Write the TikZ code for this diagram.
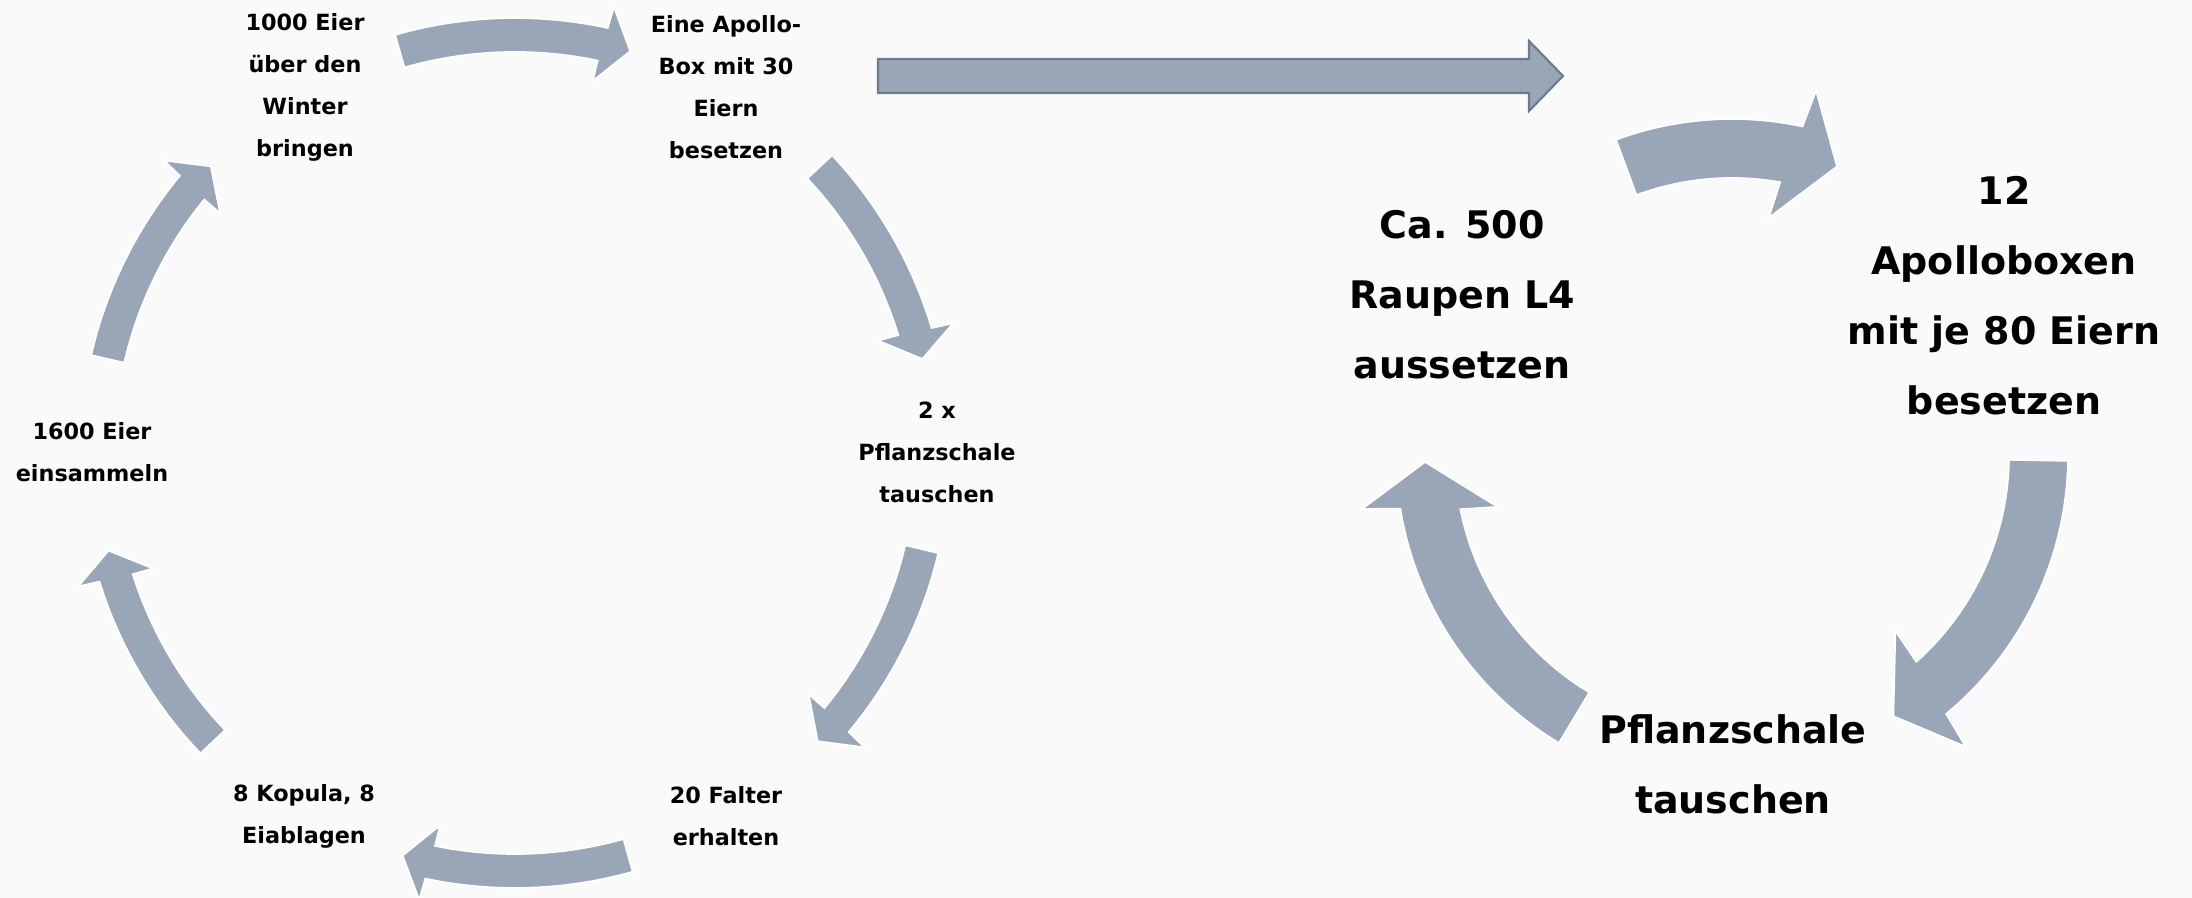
\documentclass[tikz,border=0pt]{standalone}
\usepackage{fontspec}
\setmainfont{DejaVu Sans}
\definecolor{bg}{HTML}{FAFAFA}
\definecolor{arr}{HTML}{98A6B7}
\definecolor{arrline}{HTML}{6E7B8B}
\tikzset{
  cyc/.style={fill=arr, draw=white, line width=0.5pt},
  smalllab/.style={align=center, inner sep=0pt, font=\bfseries\fontsize{6.35}{11.95}\selectfont},
  biglab/.style={align=center, inner sep=0pt, font=\bfseries\fontsize{10.8}{19.9}\selectfont},
  bigarrow/.style={fill=arr, draw=arrline, line width=0.6pt, line join=miter},
}
% tail angle, tip angle (clockwise arrows), left cycle
\newcommand\cycLeftArrow[2]{%
  \path[cyc] (#1:435) arc[start angle=#1, end angle={#2+3.7}, radius=435]
    -- ({#2+3.5}:457) -- (#2:418) -- ({#2+4.2}:380) -- ({#2+4.1}:401)
    arc[start angle={#2+4.1}, end angle=#1, radius=401] -- cycle;}
% right cycle
\newcommand\cycRightArrow[2]{%
  \path[cyc] (#1:336) arc[start angle=#1, end angle={#2+7.9}, radius=336]
    -- ({#2+7}:374) -- (#2:307) -- ({#2+11.2}:240) -- ({#2+10}:277)
    arc[start angle={#2+10}, end angle=#1, radius=277] -- cycle;}
\begin{document}
\begin{tikzpicture}[x=0.01cm, y=0.01cm]
  \fill[bg] (0,0) rectangle (2192,898);
  \useasboundingbox (0,0) rectangle (2192,898);

  \coordinate (lc) at (515,445);
  \coordinate (rc) at (1732,443);

  % left cycle arrows
  \begin{scope}[shift={(lc)}]
    \cycLeftArrow{106}{74}
    \cycLeftArrow{43.2}{13}
    \cycLeftArrow{-13.3}{-43.6}
    \cycLeftArrow{-74.3}{-105.6}
    \cycLeftArrow{-136.3}{-166.5}
    \cycLeftArrow{167}{136.7}
  \end{scope}

  % right cycle arrows
  \begin{scope}[shift={(rc)}]
    \cycRightArrow{110.2}{70}
    \cycRightArrow{-1}{-58.3}
    \cycRightArrow{-121}{-178.7}
  \end{scope}

  % straight arrow
  \coordinate (sa) at (878,822);
  \coordinate (sb) at (1563,822);
  \path[bigarrow] (sa) ++(0,17) -- ++(651,0) -- ++(0,18) -- (sb)
    -- ++(-34,-35) -- ++(0,18) -- ++(-651,0) -- cycle;

  % left labels
  \node[smalllab] (l1) at (305,811) {1000 Eier\\über den\\Winter\\bringen};
  \node[smalllab] (l2) at (726,811) {Eine Apollo-\\Box mit 30\\Eiern\\besetzen};
  \node[smalllab] (l3) at (937,446) {2 x\\Pflanzschale\\tauschen};
  \node[smalllab] (l4) at (726,82) {20 Falter\\erhalten};
  \node[smalllab] (l5) at (304,82) {8 Kopula, 8\\Eiablagen};
  \node[smalllab] (l6) at (92,446) {1600 Eier\\einsammeln};

  % right labels
  \node[biglab] (r1) at (2004,602) {12\\Apolloboxen\\mit je 80 Eiern\\besetzen};
  \node[biglab] (r2) at (1462,603) {Ca. 500\\Raupen L4\\aussetzen};
  \node[biglab] (r3) at (1733,134) {Pflanzschale\\tauschen};
\end{tikzpicture}
\end{document}
